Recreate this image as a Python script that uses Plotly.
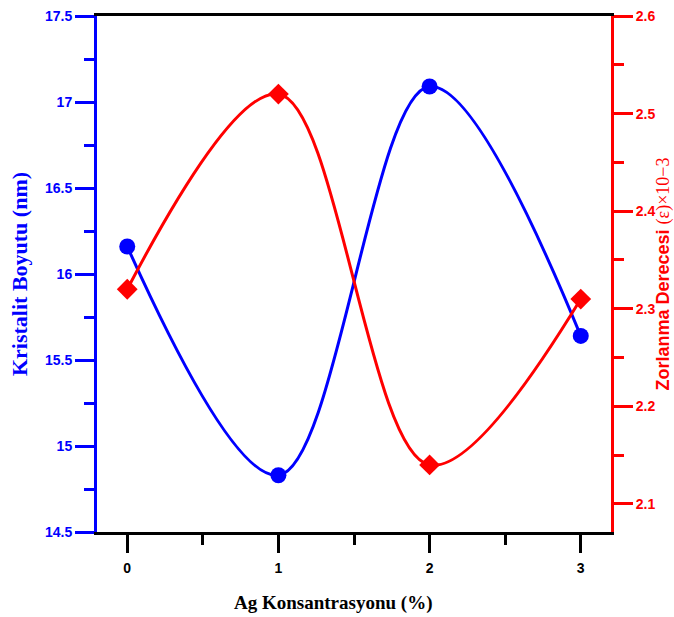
import plotly.graph_objects as go

x_conc = [0, 1, 2, 3]
crystallite_nm = [16.16, 14.83, 17.09, 15.64]
strain_e3 = [2.32, 2.52, 2.14, 2.31]

left_ticks = [14.5, 15, 15.5, 16, 16.5, 17, 17.5]
right_ticks = [2.1, 2.2, 2.3, 2.4, 2.5, 2.6]
x_ticks = [0, 1, 2, 3]

BLUE = "#0000FF"
RED = "#FF0000"
SANS = "Liberation Sans, Arial, sans-serif"
SERIF = "Liberation Serif, Times New Roman, serif"

fig = go.Figure()
fig.add_trace(go.Scatter(
    x=x_conc, y=crystallite_nm, mode="lines+markers",
    line=dict(color=BLUE, width=3, shape="spline", smoothing=1.0),
    marker=dict(symbol="circle", size=16, color=BLUE),
    yaxis="y", showlegend=False, cliponaxis=False))
fig.add_trace(go.Scatter(
    x=x_conc, y=strain_e3, mode="lines+markers",
    line=dict(color=RED, width=3, shape="spline", smoothing=1.0),
    marker=dict(symbol="diamond", size=16, color=RED),
    yaxis="y2", showlegend=False, cliponaxis=False))

fig.update_layout(
    width=674, height=617,
    margin=dict(l=97, r=63, t=16, b=85),
    paper_bgcolor="white", plot_bgcolor="white",
    xaxis=dict(
        range=[-0.2, 3.2], tickvals=x_ticks, ticktext=[str(v) for v in x_ticks],
        showgrid=False, zeroline=False, automargin=False,
        showline=True, linecolor="black", linewidth=2.5, mirror=True,
        ticks="outside", ticklen=18, tickwidth=3, tickcolor="black",
        ticklabelstandoff=3,
        minor=dict(dtick=0.5, ticks="outside", ticklen=10, tickwidth=3, tickcolor="black"),
        tickfont=dict(family=SANS, size=14, color="black", weight="bold"),
    ),
    yaxis=dict(
        range=[14.5, 17.5], tickvals=left_ticks, ticktext=[f"{v:g}" for v in left_ticks],
        showgrid=False, zeroline=False, automargin=False,
        showline=True, linecolor=BLUE, linewidth=3,
        ticks="outside", ticklen=19, tickwidth=3, tickcolor=BLUE,
        minor=dict(dtick=0.25, ticks="outside", ticklen=10, tickwidth=3, tickcolor=BLUE),
        tickfont=dict(family=SANS, size=14, color=BLUE, weight="bold"),
        title=dict(text="<b>Kristalit Boyutu (nm)</b>",
                   font=dict(family=SERIF, size=22, color=BLUE), standoff=12),
    ),
    yaxis2=dict(
        range=[2.0713, 2.6], tickvals=right_ticks, ticktext=[f"{v:g}" for v in right_ticks],
        overlaying="y", side="right",
        showgrid=False, zeroline=False, automargin=False,
        showline=True, linecolor=RED, linewidth=3,
        ticks="outside", ticklen=19, tickwidth=3, tickcolor=RED,
        minor=dict(dtick=0.05, ticks="outside", ticklen=10, tickwidth=3, tickcolor=RED),
        tickfont=dict(family=SANS, size=14, color=RED, weight="bold"),
        title=dict(text="<b>Zorlanma Derecesi</b> <span style='font-family:Liberation Serif'>(ε)×10−3</span>",
                   font=dict(family=SANS, size=18, color=RED), standoff=2),
    ),
    annotations=[dict(
        text="<b>Ag Konsantrasyonu (%)</b>", xref="paper", yref="paper",
        x=0.459, y=-0.1376, xanchor="center", yanchor="middle", showarrow=False,
        font=dict(family=SERIF, size=19, color="black"))],
)

fig.write_html("out.html")
